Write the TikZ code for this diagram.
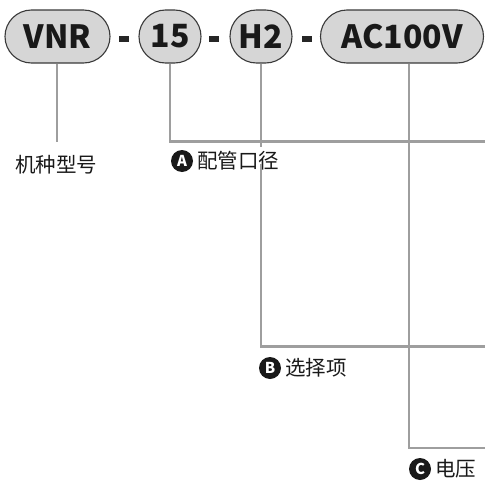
\documentclass[tikz,border=0pt]{standalone}
\usepackage{fontspec}
\setmainfont{Noto Sans CJK SC}
\definecolor{pillfill}{HTML}{D6D6D6}
\definecolor{pillborder}{HTML}{3A3A3A}
\definecolor{linegray}{HTML}{9E9E9E}
\begin{document}
\begin{tikzpicture}[x=1pt,y=-1pt,
  pill/.style={draw=pillborder, fill=pillfill, rounded corners=26.5pt, line width=1.1pt,
    minimum height=53pt, inner sep=0pt, text=black!90, font=\bfseries\fontsize{32}{32}\selectfont},
  dashbar/.style={fill=black!85, minimum width=10pt, minimum height=6pt, inner sep=0pt},
  conn/.style={draw=linegray, line width=2.8pt},
  badge/.style={circle, fill=black!90, text=white, minimum size=22pt, inner sep=0pt,
    font=\bfseries\fontsize{15}{15}\selectfont},
  lbl/.style={inner sep=0pt, text=black!90, font=\fontsize{20.5}{20.5}\selectfont}]
\useasboundingbox (0,0) rectangle (485,482);
% pills
\node[pill, minimum width=105pt] (vnr) at (57.5,36.5) {VNR};
\node[pill, minimum width=62pt] (p15) at (170,36.5) {15};
\node[pill, minimum width=62pt] (ph2) at (261,36.5) {H2};
\node[pill, minimum width=163pt] (pac) at (402,36.5) {AC100V};
% dashes
\node[dashbar] (d1) at (123.5,38.5) {};
\node[dashbar] (d2) at (213.5,38.5) {};
\node[dashbar] (d3) at (307,38.5) {};
% labels
\node[lbl] (t0) at (56.5,165) {机种型号};
\node[badge] (ba) at (182,161) {A};
\node[lbl, anchor=west] (ta) at ([xshift=4pt]ba.east) {配管口径};
\node[badge] (bb) at (270,368) {B};
\node[lbl, anchor=west] (tb) at ([xshift=4pt]bb.east) {选择项};
\node[badge] (bc) at (420,469) {C};
\node[lbl, anchor=west] (tc) at ([xshift=4pt]bc.east) {电压};
% coordinates
\coordinate (e0) at (57,142);
\coordinate (ea) at (485,141.5);
\coordinate (eb) at (485,346.5);
\coordinate (ec) at (485,448);
% connectors
\draw[conn] (vnr.south -| e0) -- (e0);
\draw[conn] (p15.south) -- (p15.south |- ea) -- (ea);
\draw[conn] (ph2.south) -- ([yshift=-5.5pt]ph2.south |- ea);
\draw[conn] ([yshift=7pt]ph2.south |- ta.south) -- (ph2.south |- eb) -- (eb);
\draw[conn] (pac.south -| 409,0) -- ([yshift=-5.5pt]409,141.5);
\draw[conn] ([yshift=5.5pt]409,141.5) -- ([yshift=-5.5pt]409,346.5);
\draw[conn] ([yshift=5.5pt]409,346.5) -- (409,448) -- (ec);
\end{tikzpicture}
\end{document}
